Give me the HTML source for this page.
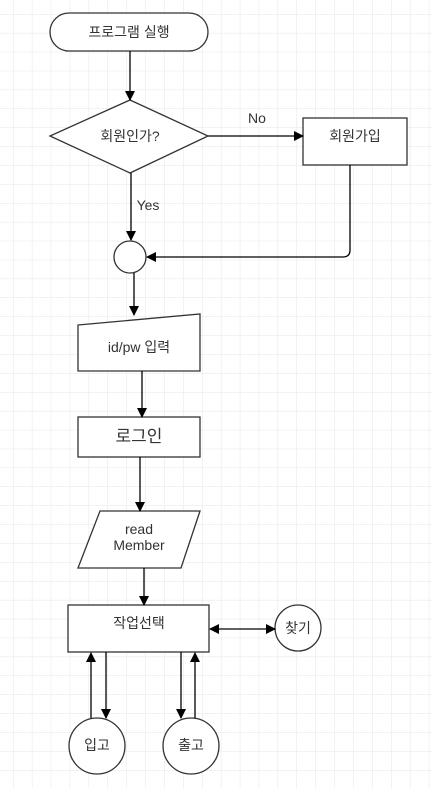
<!DOCTYPE html>
<html><head><meta charset="utf-8"><style>
body{margin:0;width:432px;height:793px;overflow:hidden;background:#fff}
text{font-family:"Liberation Sans","Noto Sans CJK KR",sans-serif;fill:#333;font-size:14px}
</style></head><body>
<svg width="432" height="793" viewBox="0 0 432 793" xmlns="http://www.w3.org/2000/svg">
<defs>
<pattern id="g" x="13" y="14" width="18.9" height="18.9" patternUnits="userSpaceOnUse">
<path d="M0 0H18.9M0 0V18.9" stroke="#e6e6e6" stroke-width="1" fill="none"/>
</pattern>
<marker id="a" markerWidth="10" markerHeight="10" refX="9" refY="5" orient="auto" markerUnits="userSpaceOnUse">
<path d="M0 0L10 5L0 10Z" fill="#000"/></marker>
<marker id="b" markerWidth="10" markerHeight="10" refX="1" refY="5" orient="auto" markerUnits="userSpaceOnUse">
<path d="M10 0L0 5L10 10Z" fill="#000"/></marker>
</defs>
<rect x="0" y="0" width="432" height="788" fill="url(#g)"/>
<g stroke="#333" stroke-width="1.3" fill="#fff">
<rect x="50" y="13" width="158" height="38" rx="19"/>
<path d="M130 100L208 136L130 173L50 136Z"/>
<rect x="303" y="118" width="104" height="47"/>
<circle cx="130" cy="257" r="16"/>
<path d="M78 325L200 314L200 371L78 371Z"/>
<rect x="78" y="417" width="122" height="40"/>
<path d="M100 511L200 511L181 568L78 568Z"/>
<rect x="68" y="605" width="141" height="47"/>
<circle cx="298" cy="628" r="23"/>
<circle cx="97" cy="746" r="28"/>
<circle cx="191" cy="746" r="28"/>
</g>
<g stroke="#000" stroke-width="1.3" fill="none">
<path d="M130 51V100" marker-end="url(#a)"/>
<path d="M208 136H303" marker-end="url(#a)"/>
<path d="M131 173V240" marker-end="url(#a)"/>
<path d="M350 165V250Q350 257 343 257H147" marker-end="url(#a)"/>
<path d="M134 273V315" marker-end="url(#a)"/>
<path d="M142 371V417" marker-end="url(#a)"/>
<path d="M140 457V511" marker-end="url(#a)"/>
<path d="M144 568V605" marker-end="url(#a)"/>
<path d="M210 629H275" marker-start="url(#b)" marker-end="url(#a)"/>
<path d="M91 718V653" marker-end="url(#a)"/>
<path d="M106 652V718" marker-end="url(#a)"/>
<path d="M181 652V718" marker-end="url(#a)"/>
<path d="M195 718V653" marker-end="url(#a)"/>
</g>
<g text-anchor="middle">
<text x="129" y="37">프로그램 실행</text>
<text x="130" y="141">회원인가?</text>
<text x="355" y="141">회원가입</text>
<text x="257" y="123">No</text>
<text x="148" y="210">Yes</text>
<text x="139" y="352">id/pw 입력</text>
<text x="139" y="442" style="font-size:17px">로그인</text>
<text x="139" y="534">read</text>
<text x="139" y="550">Member</text>
<text x="139" y="628">작업선택</text>
<text x="298" y="633">찾기</text>
<text x="97" y="750">입고</text>
<text x="191" y="750">출고</text>
</g>
</svg>
</body></html>
